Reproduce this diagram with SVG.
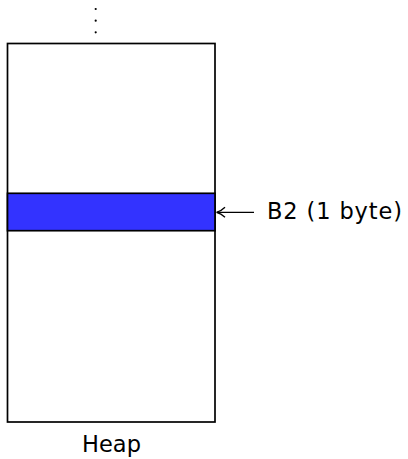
<svg xmlns="http://www.w3.org/2000/svg" width="408" height="459" viewBox="0 0 408 459">
<style>
.box{fill:#fff;stroke:#000;stroke-width:1.7}
.blk{fill:#3333ff;stroke:#000;stroke-width:1.7}
.lbl{font-family:"DejaVu Sans",sans-serif;font-size:22.5px;fill:#000}
.con{stroke:#000;stroke-width:1.3;fill:none}
</style>
<defs>
<marker id="ah" viewBox="0 0 10 12" refX="9" refY="6" markerWidth="10" markerHeight="12" markerUnits="userSpaceOnUse" orient="auto">
<path d="M1,1 Q5,5 9.5,6 Q5,7 1,11" fill="none" stroke="#000" stroke-width="1.3"/>
</marker>
</defs>
<g id="heap">
<rect class="box" x="7.5" y="43.5" width="207.5" height="378.5"/>
<text class="lbl" x="111.5" y="452" text-anchor="middle" textLength="59">Heap</text>
</g>
<g id="dots">
<circle cx="95.7" cy="9" r="1.1" fill="#000"/>
<circle cx="95.7" cy="20.7" r="1.1" fill="#000"/>
<circle cx="95.7" cy="32.3" r="1.1" fill="#000"/>
</g>
<g id="b2">
<rect class="blk" x="7.5" y="193.3" width="207.5" height="37.4"/>
</g>
<g id="b2label">
<text class="lbl" x="267" y="219" textLength="135">B2 (1 byte)</text>
</g>
<g id="connectors">
<path class="con" d="M254,212.3 H217" marker-end="url(#ah)"/>
</g>
</svg>
